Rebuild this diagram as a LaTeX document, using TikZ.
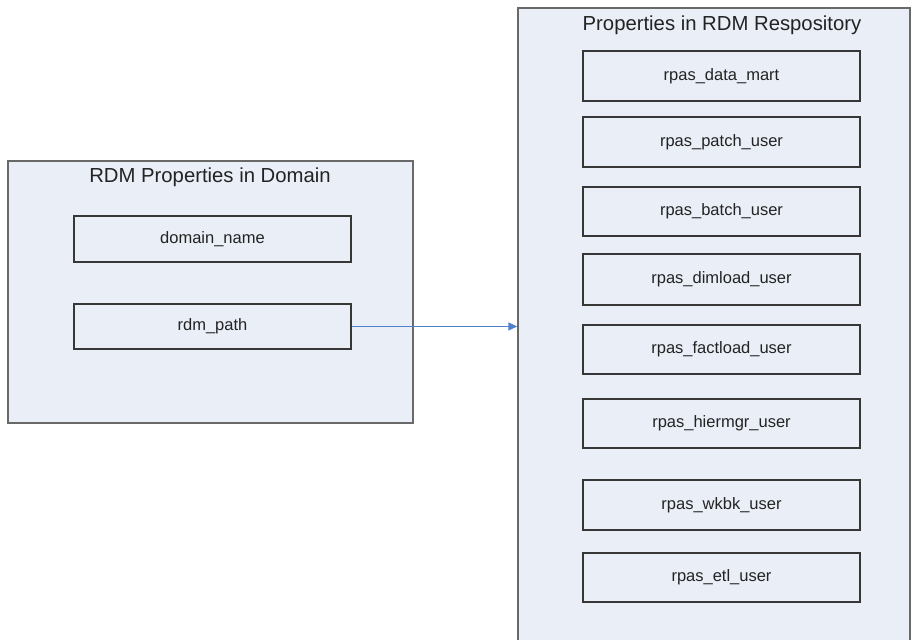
\documentclass[tikz,border=0pt]{standalone}
\usepackage{fontspec}
\setmainfont{Liberation Sans}
\usetikzlibrary{arrows.meta}
\definecolor{panelfill}{RGB}{233,238,247}
\definecolor{panelline}{RGB}{105,105,105}
\definecolor{boxline}{RGB}{55,55,55}
\definecolor{txt}{RGB}{35,35,35}
\definecolor{arrowblue}{RGB}{79,129,205}
\tikzset{
  panel/.style={draw=panelline, fill=panelfill, line width=1.5pt, rectangle, inner sep=0pt},
  propbox/.style={draw=boxline, fill=panelfill, line width=1.4pt, rectangle, inner sep=0pt,
     minimum width=277pt, text=txt, font=\fontsize{16.5}{19}\selectfont},
  paneltitle/.style={text=txt, font=\fontsize{20.3}{23}\selectfont, inner sep=0pt},
  link/.style={draw=arrowblue, line width=1.5pt, -{Triangle[length=9pt,width=8pt]}}
}
\begin{document}
\begin{tikzpicture}[x=1pt,y=-1pt]
\useasboundingbox (0,0) rectangle (914,640);
\clip (0,0) rectangle (914,640);
\fill[white] (0,0) rectangle (914,640);
% left panel
\node[panel, minimum width=405pt, minimum height=262pt] (left) at (210.5,292) {};
\node[paneltitle] (lefttitle) at (210,177) {RDM Properties in Domain};
\node[propbox, minimum height=46pt] (domain) at (212.5,239) {domain\_name};
\node[propbox, minimum height=45pt] (rdm) at (212.5,326.5) {rdm\_path};
% right panel
\node[panel, minimum width=392pt, minimum height=660pt] (right) at (714,338) {};
\node[paneltitle] (righttitle) at (722,25) {Properties in RDM Respository};
\node[propbox, minimum height=50pt] (p1) at (721.5,76) {rpas\_data\_mart};
\node[propbox, minimum height=50pt] (p2) at (721.5,142) {rpas\_patch\_user};
\node[propbox, minimum height=49pt] (p3) at (721.5,211.5) {rpas\_batch\_user};
\node[propbox, minimum height=51pt] (p4) at (721.5,279.5) {rpas\_dimload\_user};
\node[propbox, minimum height=49pt] (p5) at (721.5,349.5) {rpas\_factload\_user};
\node[propbox, minimum height=49pt] (p6) at (721.5,423.5) {rpas\_hiermgr\_user};
\node[propbox, minimum height=50pt] (p7) at (721.5,505) {rpas\_wkbk\_user};
\node[propbox, minimum height=49pt] (p8) at (721.5,577.5) {rpas\_etl\_user};
% connector
\draw[link] (rdm.east) -- (rdm.east -| right.west);
\end{tikzpicture}
\end{document}
